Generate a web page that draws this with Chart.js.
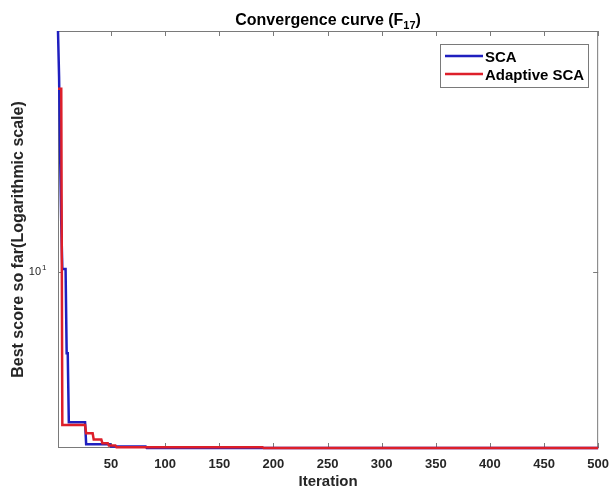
<!DOCTYPE html>
<html>
<head>
<meta charset="utf-8">
<script src="https://cdn.jsdelivr.net/npm/chart.js@4.4.1/dist/chart.umd.min.js"></script>
<style>
  html, body { margin: 0; padding: 0; background: #fff; }
  #wrap { width: 610px; height: 491px; }
</style>
</head>
<body>
<div id="wrap"><canvas id="curva"></canvas></div>
<script>
// best-so-far values at the iterations where each curve changes
const scaIter = [1, 2, 3, 4, 5, 8, 9, 10, 11, 26, 27, 49, 50, 82, 83, 500];
const scaBest = [52, 38, 22, 14, 10.2, 10.2, 5.74, 5.74, 3.58, 3.58, 3.08, 3.08, 3.03, 3.03, 3.0, 3.0];

const ascaIter = [1, 4, 5, 26, 27, 33, 34, 41, 42, 47, 48, 54, 55, 190, 191, 500];
const ascaBest = [35, 35, 3.51, 3.51, 3.32, 3.32, 3.18, 3.18, 3.10, 3.10, 3.05, 3.05, 3.015, 3.015, 3.0, 3.0];

const xTicks = [50, 100, 150, 200, 250, 300, 350, 400, 450, 500];
const yTicks = [10];

const FONT = "'Liberation Sans', Arial, sans-serif";
const AXIS_COLOR = '#7a7a7a';
const BLUE = '#1f1fbf';
const RED = '#dd1f2a';

function puntos(xs, ys) {
  return xs.map((x, i) => ({ x: x, y: ys[i] }));
}

// Caja de ejes estilo MATLAB con marcas hacia dentro
const cajaEjes = {
  id: 'cajaEjes',
  beforeDatasetsDraw(chart) {
    const { ctx, chartArea: a, scales } = chart;
    ctx.save();
    ctx.strokeStyle = AXIS_COLOR;
    ctx.lineWidth = 1;
    ctx.strokeRect(a.left + 0.5, a.top + 0.5, a.right - a.left - 1, a.bottom - a.top - 1);
    ctx.beginPath();
    xTicks.forEach(v => {
      const px = Math.round(scales.x.getPixelForValue(v)) + 0.5;
      ctx.moveTo(px, a.bottom); ctx.lineTo(px, a.bottom - 5);
      ctx.moveTo(px, a.top); ctx.lineTo(px, a.top + 5);
    });
    yTicks.forEach(v => {
      const py = Math.round(scales.y.getPixelForValue(v)) + 0.5;
      ctx.moveTo(a.left, py); ctx.lineTo(a.left + 5, py);
      ctx.moveTo(a.right, py); ctx.lineTo(a.right - 5, py);
    });
    ctx.stroke();

    // exponente de las etiquetas del eje y (10^1)
    ctx.fillStyle = '#262626';
    ctx.font = '8px ' + FONT;
    ctx.textAlign = 'left';
    ctx.textBaseline = 'middle';
    yTicks.forEach(v => {
      const py = scales.y.getPixelForValue(v);
      ctx.fillText(String(Math.round(Math.log10(v))), 42, py - 4);
    });
    ctx.restore();
  },
  afterDraw(chart) {
    const { ctx, chartArea: a } = chart;
    ctx.save();
    // título con subíndice
    const parte1 = 'Convergence curve (F';
    const sub = '17';
    const parte2 = ')';
    ctx.fillStyle = '#000';
    ctx.textBaseline = 'alphabetic';
    ctx.font = 'bold 16px ' + FONT;
    const w1 = ctx.measureText(parte1).width;
    const w3 = ctx.measureText(parte2).width;
    ctx.font = 'bold 11px ' + FONT;
    const w2 = ctx.measureText(sub).width;
    const cx = (a.left + a.right) / 2;
    let x = cx - (w1 + w2 + w3) / 2;
    const base = 25;
    ctx.font = 'bold 16px ' + FONT;
    ctx.textAlign = 'left';
    ctx.fillText(parte1, x, base);
    x += w1;
    ctx.font = 'bold 11px ' + FONT;
    ctx.fillText(sub, x, base + 4);
    x += w2;
    ctx.font = 'bold 16px ' + FONT;
    ctx.fillText(parte2, x, base);

    // leyenda
    const lx = 440, ly = 44, lw = 148, lh = 43;
    ctx.fillStyle = '#fff';
    ctx.fillRect(lx, ly, lw, lh);
    ctx.strokeStyle = AXIS_COLOR;
    ctx.lineWidth = 1;
    ctx.strokeRect(lx + 0.5, ly + 0.5, lw, lh);
    const items = [
      { label: 'SCA', color: BLUE, y: 56 },
      { label: 'Adaptive SCA', color: RED, y: 74 }
    ];
    items.forEach(it => {
      ctx.strokeStyle = it.color;
      ctx.lineWidth = 2.5;
      ctx.beginPath();
      ctx.moveTo(445, it.y);
      ctx.lineTo(483, it.y);
      ctx.stroke();
      ctx.fillStyle = '#000';
      ctx.font = 'bold 15px ' + FONT;
      ctx.textBaseline = 'middle';
      ctx.fillText(it.label, 485, it.y + 2);
    });
    ctx.restore();
  }
};

new Chart(document.getElementById('curva'), {
  type: 'line',
  data: {
    datasets: [
      {
        label: 'SCA',
        data: puntos(scaIter, scaBest),
        borderColor: BLUE,
        borderWidth: 2.5,
        pointRadius: 0,
        tension: 0,
        clip: 4,
        order: 2
      },
      {
        label: 'Adaptive SCA',
        data: puntos(ascaIter, ascaBest),
        borderColor: RED,
        borderWidth: 2.5,
        pointRadius: 0,
        tension: 0,
        clip: 4,
        order: 1
      }
    ]
  },
  options: {
    responsive: true,
    maintainAspectRatio: false,
    animation: false,
    layout: { padding: { top: 31, right: 5, left: 0, bottom: 0 } },
    plugins: {
      legend: { display: false },
      tooltip: { enabled: false }
    },
    scales: {
      x: {
        type: 'linear',
        min: 1,
        max: 500,
        grid: { display: false },
        border: { display: false },
        afterBuildTicks: s => { s.ticks = xTicks.map(v => ({ value: v })); },
        afterFit: s => { s.height = 43; },
        ticks: {
          autoSkip: false,
          maxRotation: 0,
          padding: 1,
          color: '#262626',
          font: { family: FONT, size: 13, weight: 'bold' }
        },
        title: {
          display: true,
          text: 'Iteration',
          color: '#262626',
          padding: { top: 0, bottom: 0 },
          font: { family: FONT, size: 15, weight: 'bold' }
        }
      },
      y: {
        type: 'logarithmic',
        min: 3,
        max: 52,
        grid: { display: false },
        border: { display: false },
        afterBuildTicks: s => { s.ticks = yTicks.map(v => ({ value: v })); },
        afterFit: s => { s.width = 58; },
        ticks: {
          padding: 9,
          color: '#262626',
          font: { family: FONT, size: 11 },
          callback: v => '10'
        },
        title: {
          display: true,
          text: 'Best score so far(Logarithmic scale)',
          color: '#262626',
          padding: { top: 9, bottom: 0 },
          font: { family: FONT, size: 16, weight: 'bold' }
        }
      }
    }
  },
  plugins: [cajaEjes]
});
</script>
</body>
</html>
